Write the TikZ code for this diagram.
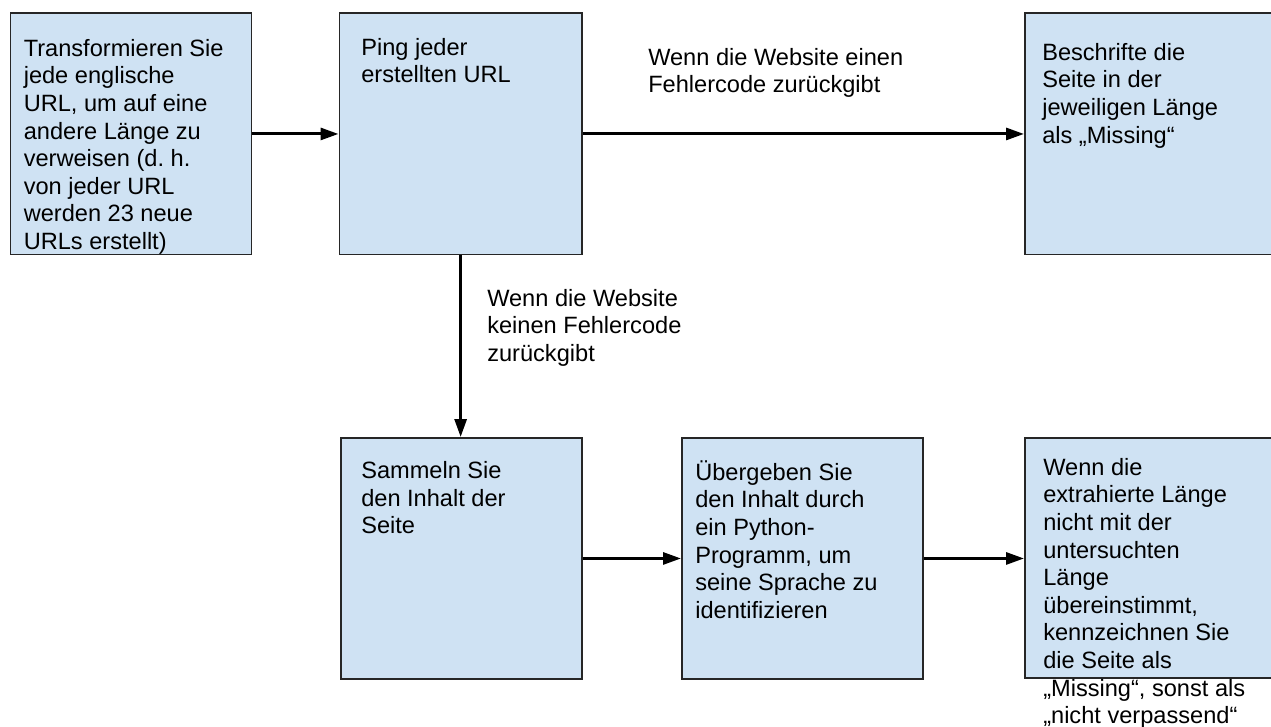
\documentclass[tikz,border=0pt]{standalone}
\usepackage{fontspec}
\setmainfont{Liberation Sans}
\usetikzlibrary{arrows.meta}
\definecolor{boxblue}{HTML}{CFE2F3}

\begin{document}
\begin{tikzpicture}[x=0.75pt, y=-0.75pt,
	box/.style={draw=black!85, fill=boxblue, line width=1.2pt, inner sep=0pt, anchor=north west, minimum width=181pt, minimum height=181pt},
	txt/.style={anchor=north west, inner sep=0pt, align=left, font=\fontsize{17.7pt}{20.7pt}\selectfont},
	pfeil/.style={line width=2.2pt, -{Triangle[length=13.5pt, width=9pt]}}]
	\clip (0, 0) rectangle (1271, 727);%Rahmen
	\fill[white](0, 0) rectangle (1271, 727);
	\node[box] (trans) at (9.5, 12.5) {};
	\node[box, minimum width=182pt] (ping) at (338.5, 12.5) {};
	\node[box, minimum width=200pt] (missing) at (1024, 12.5) {};
	\node[box] (sammeln) at (340, 437) {};
	\node[box] (python) at (681, 437) {};
	\node[box, minimum width=200pt, minimum height=180pt] (vergleich) at (1024, 437) {};
	\node[txt] (transtext) at (23.5, 36.7) {\strut Transformieren Sie\\jede englische\\URL, um auf eine\\andere Länge zu\\verweisen (d.~h.\\von jeder URL\\werden 23 neue\\URLs erstellt)};
	\node[txt] (pingtext) at (361, 35.7) {\strut Ping jeder\\erstellten URL};
	\node[txt] (missingtext) at (1042, 40.7) {\strut Beschrifte die\\Seite in der\\jeweiligen Länge\\als „Missing“};
	\node[txt] (sammelntext) at (361, 459.2) {\strut Sammeln Sie\\den Inhalt der\\Seite};
	\node[txt] (pythontext) at (695, 460.3) {\strut Übergeben Sie\\den Inhalt durch\\ein Python-\\Programm, um\\seine Sprache zu\\identifizieren};
	\node[txt] (vergleichtext) at (1043, 455.7) {\strut Wenn die\\extrahierte Länge\\nicht mit der\\untersuchten\\Länge\\übereinstimmt,\\kennzeichnen Sie\\die Seite als\\„Missing“, sonst als\\„nicht verpassend“};
	\node[txt] (fehler) at (648, 45.7) {\strut Wenn die Website einen\\Fehlercode zurückgibt};
	\node[txt] (keinfehler) at (487, 286.7) {\strut Wenn die Website\\keinen Fehlercode\\zurückgibt};
	\draw[pfeil] (trans) -- (ping);
	\draw[pfeil] (ping) -- (missing);%Fehlercode
	\draw[pfeil] (ping.south) -- (ping.south |- sammeln.north);%kein Fehlercode
	\draw[pfeil] (sammeln) -- (python);
	\draw[pfeil] (python.east) -- (python.east -| vergleich.west);
\end{tikzpicture}
\end{document}
